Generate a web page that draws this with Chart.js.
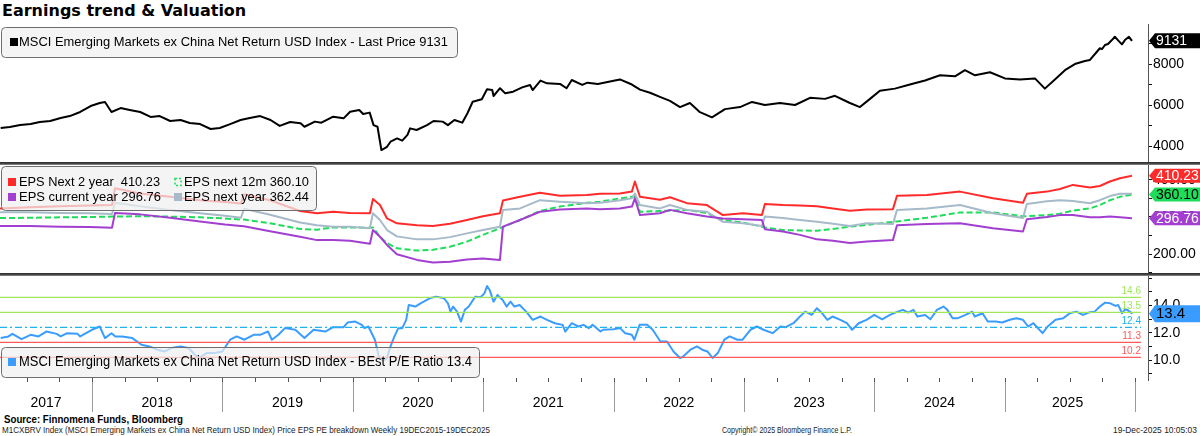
<!DOCTYPE html>
<html><head><meta charset="utf-8">
<script src="https://cdn.jsdelivr.net/npm/chart.js@4.4.1/dist/chart.umd.min.js"></script>
<style>
html,body{margin:0;padding:0;background:#fff;width:1200px;height:436px;overflow:hidden;}
#wrap{position:relative;width:1200px;height:436px;}
.cv{position:absolute;left:0;}
.t{position:absolute;white-space:nowrap;transform-origin:left top;}
.sep{position:absolute;left:0;width:1200px;height:3px;background:linear-gradient(#2a2a2a,#4a4a4a 60%,#9a9a9a);z-index:5;}
</style></head><body><div id="wrap">
<div class="t" id="title" style="left:2px;top:1px;font:bold 16px 'DejaVu Sans',sans-serif;color:#000">Earnings trend &amp; Valuation</div>
<canvas class="cv" id="cA" width="1200" height="140" style="top:24px"></canvas>
<canvas class="cv" id="cB" width="1200" height="111" style="top:164px"></canvas>
<canvas class="cv" id="cC" width="1200" height="137" style="top:275px"></canvas>
<div class="sep" style="top:162px"></div>
<div class="sep" style="top:273px"></div>
<div class="t fit" data-w="179" style="left:4px;top:413px;font:bold 11px 'Liberation Sans',Arial,sans-serif;color:#000">Source: Finnomena Funds, Bloomberg</div>
<div class="t fit" data-w="488" style="left:2px;top:425px;font:9px 'Liberation Sans',Arial,sans-serif;color:#222">M1CXBRV Index (MSCI Emerging Markets ex China Net Return USD Index) Price EPS PE breakdown Weekly 19DEC2015-19DEC2025</div>
<div class="t fit" data-w="130" style="left:722px;top:425px;font:9px 'Liberation Sans',Arial,sans-serif;color:#222">Copyright© 2025 Bloomberg Finance L.P.</div>
<div class="t fit" data-w="84" style="left:1113px;top:425px;font:9px 'Liberation Sans',Arial,sans-serif;color:#222">19-Dec-2025 10:05:03</div>
</div>
<script>
// ---------------- DATA ----------------
const priceDates = [2017.30,2017.37,2017.45,2017.53,2017.60,2017.68,2017.76,2017.83,2017.91,2017.99,2018.06,2018.10,2018.15,2018.22,2018.29,2018.37,2018.45,2018.52,2018.60,2018.68,2018.75,2018.83,2018.91,2018.98,2019.06,2019.14,2019.21,2019.29,2019.37,2019.44,2019.52,2019.60,2019.63,2019.71,2019.76,2019.85,2019.93,2019.98,2020.05,2020.08,2020.13,2020.16,2020.19,2020.22,2020.26,2020.29,2020.34,2020.38,2020.42,2020.44,2020.49,2020.57,2020.62,2020.69,2020.73,2020.78,2020.84,2020.88,2020.92,2020.99,2021.03,2021.07,2021.08,2021.13,2021.17,2021.23,2021.30,2021.36,2021.38,2021.44,2021.49,2021.59,2021.64,2021.68,2021.76,2021.80,2021.88,2021.973,2022.049,2022.141,2022.203,2022.280,2022.356,2022.433,2022.510,2022.586,2022.663,2022.755,2022.855,2022.970,2023.062,2023.161,2023.276,2023.392,2023.507,2023.622,2023.698,2023.813,2023.890,2023.967,2024.043,2024.158,2024.273,2024.389,2024.504,2024.619,2024.695,2024.772,2024.887,2025.002,2025.117,2025.232,2025.308,2025.385,2025.462,2025.538,2025.615,2025.654,2025.707,2025.730,2025.746,2025.769,2025.792,2025.822,2025.845,2025.868,2025.899,2025.922,2025.953,2025.976];
const priceValues = [4880,4930,5020,5070,5170,5220,5370,5460,5660,5950,6100,6150,5660,5850,5760,5660,5420,5460,5220,5270,5120,5070,4830,4880,5070,5270,5370,5460,5270,4980,5170,5110,4940,5190,5140,5430,5350,5670,5760,5560,5630,5020,4940,3800,3940,4210,4370,4260,4540,4860,4780,5020,5220,5190,5020,5270,5140,5600,6160,6280,6770,6730,6440,6820,6570,6650,6860,6980,6730,7190,7060,7030,6820,7220,6980,7090,7030,7150,7250,7000,6750,6600,6400,6200,5900,6100,5650,5400,5800,5900,6150,6000,6100,6000,6350,6300,6450,6100,5900,6300,6700,6800,7000,7200,7450,7400,7700,7450,7600,7300,7250,7300,6800,7250,7700,8000,8150,8200,8600,8770,8730,8930,8980,9170,9330,9170,8960,9170,9330,9131];

const epsDates = [2017.295,2017.525,2017.755,2017.985,2018.154,2018.177,2018.369,2018.599,2018.829,2019.020,2019.143,2019.166,2019.366,2019.596,2019.726,2019.849,2019.979,2020.132,2020.155,2020.209,2020.263,2020.339,2020.493,2020.615,2020.746,2020.876,2020.999,2021.129,2021.152,2021.283,2021.436,2021.589,2021.796,2021.896,2022.049,2022.141,2022.164,2022.203,2022.356,2022.433,2022.563,2022.716,2022.839,2022.993,2023.138,2023.161,2023.299,2023.430,2023.560,2023.683,2023.813,2023.944,2024.143,2024.174,2024.404,2024.657,2024.910,2025.140,2025.170,2025.324,2025.424,2025.523,2025.654,2025.730,2025.807,2025.884,2025.976];
const epsNext2Y = [323,326,329,331,332,377,363,354,345,340,336,361,345,316,310,314,311,310,348,332,296,283,278,276,282,292,302,310,344,354,365,357,359,362,363,368,395,354,346,353,337,332,305,310,305,335,332,331,329,323,317,320,321,357,359,368,350,338,362,368,375,386,379,383,395,404,410.23];
const epsNextYear = [313,313,311,310,308,338,329,319,310,303,298,322,306,285,278,274,274,270,310,292,265,248,240,240,246,256,265,274,319,323,345,341,337,338,345,350,363,332,323,332,319,314,287,283,276,301,297,292,287,282,276,283,281,319,323,332,310,297,335,342,345,343,337,345,356,362,362.44];
const epsNext12m = [297,298,299,300,301,301,302,301,299,296,293,293,283,268,266,272,272,271,272,247,230,216,210,212,220,234,252,270,273,292,316,328,338,341,350,354,354,314,316,317,319,310,292,285,274,272,265,264,263,268,274,279,287,288,298,312,312,302,302,305,309,317,323,332,345,354,360.10];
const epsCurYear = [276,276,274,273,271,311,307,298,288,280,276,275,262,247,238,238,236,228,265,247,225,200,185,178,180,186,189,185,274,292,314,320,323,321,323,328,350,305,310,319,310,301,296,294,292,267,261,252,240,236,230,234,238,278,281,283,270,261,294,300,305,305,299,299,301,299,296.76];

const peDates = [2017.30,2017.36,2017.39,2017.46,2017.53,2017.59,2017.65,2017.73,2017.76,2017.81,2017.89,2017.91,2018.00,2018.06,2018.10,2018.15,2018.18,2018.23,2018.31,2018.38,2018.44,2018.50,2018.56,2018.61,2018.68,2018.74,2018.79,2018.82,2018.88,2018.94,2019.00,2019.06,2019.11,2019.17,2019.24,2019.29,2019.35,2019.38,2019.43,2019.48,2019.56,2019.63,2019.70,2019.79,2019.85,2019.93,2019.96,2020.02,2020.07,2020.09,2020.12,2020.17,2020.20,2020.23,2020.26,2020.29,2020.32,2020.35,2020.38,2020.41,2020.43,2020.48,2020.52,2020.59,2020.64,2020.70,2020.73,2020.75,2020.77,2020.80,2020.83,2020.86,2020.89,2020.94,2020.98,2021.01,2021.03,2021.05,2021.08,2021.11,2021.15,2021.18,2021.21,2021.24,2021.28,2021.33,2021.38,2021.44,2021.49,2021.55,2021.61,2021.63,2021.68,2021.73,2021.77,2021.81,2021.84,2021.90,2021.92,2022.00,2022.05,2022.09,2022.14,2022.16,2022.20,2022.26,2022.30,2022.36,2022.41,2022.46,2022.51,2022.53,2022.59,2022.64,2022.68,2022.72,2022.76,2022.80,2022.85,2022.89,2022.95,2022.99,2023.05,2023.10,2023.15,2023.22,2023.28,2023.32,2023.38,2023.43,2023.47,2023.52,2023.56,2023.60,2023.64,2023.68,2023.74,2023.79,2023.83,2023.88,2023.94,2024.00,2024.06,2024.12,2024.18,2024.22,2024.26,2024.30,2024.33,2024.39,2024.43,2024.48,2024.53,2024.56,2024.60,2024.64,2024.70,2024.75,2024.77,2024.83,2024.87,2024.93,2024.98,2025.04,2025.09,2025.14,2025.18,2025.22,2025.29,2025.33,2025.39,2025.45,2025.50,2025.55,2025.60,2025.65,2025.69,2025.73,2025.77,2025.81,2025.85,2025.87,2025.90,2025.92,2025.94,2025.98];
const peValues = [11.61,11.73,11.92,11.53,11.85,11.73,12.09,11.92,11.73,11.97,11.92,11.73,12.22,12.46,11.61,11.97,11.73,11.73,11.61,11.12,11.00,10.76,10.63,10.88,11.00,10.88,10.39,10.15,10.51,10.51,10.63,11.49,11.73,11.49,11.85,11.85,12.09,11.49,11.85,12.34,12.22,11.61,12.22,12.09,12.41,12.41,12.75,12.82,12.58,12.34,12.46,11.49,10.27,9.95,10.10,11.00,11.73,12.34,12.34,12.95,14.04,13.92,14.16,14.53,14.65,14.53,14.16,13.55,13.92,13.55,12.82,13.68,13.92,14.65,14.60,14.89,15.43,15.14,14.28,14.77,14.40,13.92,14.28,13.92,14.04,13.55,12.95,13.19,12.95,12.70,12.58,12.09,12.70,12.46,12.58,12.34,12.58,12.09,12.22,12.26,12.34,11.97,11.85,11.49,12.58,12.58,12.22,11.36,11.36,10.63,10.15,10.22,10.76,11.00,10.76,10.63,10.15,10.51,11.49,11.73,11.49,11.49,12.22,12.46,12.22,11.97,12.46,12.41,12.70,13.19,13.55,13.31,13.80,13.43,12.95,13.19,12.95,12.70,12.22,12.70,12.95,13.31,12.99,13.31,13.55,13.68,13.48,13.68,13.19,13.31,12.99,13.68,13.92,13.68,13.07,13.07,13.31,13.55,13.19,13.43,12.82,12.82,12.75,12.95,13.07,12.95,12.46,12.70,11.97,12.46,12.95,13.07,13.43,13.55,13.31,13.50,13.55,13.92,14.21,14.16,13.97,14.04,13.43,13.68,13.68,13.40];

const peBandLevels = [14.6, 13.5, 12.4, 11.3, 10.2];
const peBandLabels = ['14.6', '13.5', '12.4', '11.3', '10.2'];
const yearLabels = ['2017','2018','2019','2020','2021','2022','2023','2024','2025'];
const lastPrice = '9131';
const last2Y = '410.23', last12m = '360.10', lastCY = '296.76', lastNY = '362.44', lastPE = '13.4';
const priceTicks = [4000,5000,6000,7000,8000,9000], priceLabelTicks = [4000,6000,8000];
const epsTicks = [150,200,250,300,350,400], epsLabelTicks = [200,300,400];
const peTicks = [9,10,11,12,13,14,15,16], peLabelTicks = [10,12,14];

// ---------------- SETUP ----------------
const FONT = "'Liberation Sans', Arial, sans-serif";
const X_MIN = 2017.295, X_MAX = 2026.099, DATA_END = 2025.965, BAND_END = 2026.045;
const C_RED = '#ff2b2b', C_GRAY = '#a6bac9', C_GREEN = '#1fdc5a', C_PURPLE = '#a23fd0', C_BLUE = '#3b9cff';

document.querySelectorAll('.fit').forEach(el => {
  const w = el.getBoundingClientRect().width;
  el.style.transform = 'scaleX(' + (parseFloat(el.dataset.w) / w) + ')';
});

function pts(xs, ys) { return xs.map((x, i) => ({x: x, y: ys[i]})); }
function line(data, color, extra) {
  return Object.assign({data: data, borderColor: color, borderWidth: 2, pointRadius: 0, tension: 0, fill: false, borderJoinStyle: 'round'}, extra || {});
}
function yAxis(min, max, ticks, labelTicks, fmt) {
  return {
    position: 'right', min: min, max: max,
    afterFit(s) { s.width = 52; s.paddingTop = 0; s.paddingBottom = 0; },
    afterBuildTicks(s) { s.ticks = ticks.map(v => ({value: v})); },
    ticks: {autoSkip: false, padding: 1, color: '#000', font: {family: FONT, size: 14},
      callback: (v) => labelTicks.includes(v) ? fmt(v) : ''},
    grid: {drawOnChartArea: false, drawTicks: true, tickLength: 4, color: '#111', lineWidth: 1},
    border: {display: true, color: '#555', width: 1}
  };
}
const xHidden = {type: 'linear', min: X_MIN, max: X_MAX, display: false};

function fitText(ctx, text, x, y, targetW, size, weight, align) {
  ctx.font = (weight ? weight + ' ' : '') + size + 'px ' + FONT;
  const w = ctx.measureText(text).width;
  const k = targetW ? targetW / w : 1;
  ctx.save(); ctx.translate(x, y); ctx.scale(k, 1);
  ctx.textBaseline = 'middle'; ctx.textAlign = align || 'left';
  ctx.fillText(text, 0, 0); ctx.restore();
}
function legendBox(ctx, x0, y0, x1, y1) {
  ctx.save();
  const r = 4;
  ctx.beginPath();
  ctx.moveTo(x0 + r, y0); ctx.lineTo(x1 - r, y0); ctx.quadraticCurveTo(x1, y0, x1, y0 + r);
  ctx.lineTo(x1, y1 - r); ctx.quadraticCurveTo(x1, y1, x1 - r, y1);
  ctx.lineTo(x0 + r, y1); ctx.quadraticCurveTo(x0, y1, x0, y1 - r);
  ctx.lineTo(x0, y0 + r); ctx.quadraticCurveTo(x0, y0, x0 + r, y0); ctx.closePath();
  ctx.fillStyle = 'rgba(240,240,240,0.72)'; ctx.fill();
  ctx.strokeStyle = '#6e6e6e'; ctx.lineWidth = 1; ctx.stroke();
  ctx.restore();
}
function drawTag(chart, value, text, bg, fg, h, fs) {
  const ctx = chart.ctx, ys = chart.scales.y;
  const y = ys.getPixelForValue(value);
  const x0 = chart.chartArea.right + 1, x1 = chart.width, tip = 6;
  ctx.save();
  ctx.beginPath(); ctx.moveTo(x0, y); ctx.lineTo(x0 + tip, y - h / 2); ctx.lineTo(x1, y - h / 2);
  ctx.lineTo(x1, y + h / 2); ctx.lineTo(x0 + tip, y + h / 2); ctx.closePath();
  ctx.fillStyle = bg; ctx.fill();
  ctx.fillStyle = fg; ctx.font = fs + 'px ' + FONT;
  const avail = x1 - (x0 + tip) - 2, w = ctx.measureText(text).width;
  fitText(ctx, text, x0 + tip + 1, y + 0.5, w > avail ? avail : 0, fs);
  ctx.restore();
}
const common = {responsive: false, animation: false, devicePixelRatio: 1, events: [],
  layout: {padding: 0}, plugins: {legend: {display: false}, tooltip: {enabled: false}}};

// ---------------- PANEL A: PRICE ----------------
new Chart(document.getElementById('cA'), {
  type: 'line',
  data: {datasets: [line(pts(priceDates, priceValues), '#000', {borderWidth: 2})]},
  options: Object.assign({}, common, {
    scales: {x: xHidden, y: yAxis(3122, 9954, priceTicks, priceLabelTicks, v => String(v))}
  }),
  plugins: [{id: 'pa', afterDatasetsDraw(chart) {
    const ctx = chart.ctx;
    legendBox(ctx, 1.5, 3.5, 457.5, 33.5);
    ctx.fillStyle = '#000'; ctx.fillRect(10, 14, 8, 8);
    fitText(ctx, 'MSCI Emerging Markets ex China Net Return USD Index - Last Price ' + lastPrice, 19, 18.5, 429, 13);
  }, afterDraw(chart) {
    drawTag(chart, priceValues[priceValues.length - 1], lastPrice, '#000', '#fff', 15, 14);
  }}]
});

// ---------------- PANEL B: EPS ----------------
new Chart(document.getElementById('cB'), {
  type: 'line',
  data: {datasets: [
    line(pts(epsDates, epsCurYear), C_PURPLE),
    line(pts(epsDates, epsNextYear), C_GRAY),
    line(pts(epsDates, epsNext12m), C_GREEN, {borderDash: [6, 3]}),
    line(pts(epsDates, epsNext2Y), C_RED)
  ]},
  options: Object.assign({}, common, {
    scales: {x: xHidden, y: yAxis(144.5, 442, epsTicks, epsLabelTicks, v => v.toFixed(2))}
  }),
  plugins: [{id: 'pb', afterDatasetsDraw(chart) {
    const ctx = chart.ctx;
    legendBox(ctx, 1.5, 2.5, 316.5, 46.5);
    ctx.fillStyle = C_RED; ctx.fillRect(8, 14, 8, 8);
    ctx.fillStyle = C_PURPLE; ctx.fillRect(8, 29, 8, 8);
    ctx.fillStyle = C_GRAY; ctx.fillRect(174, 29, 8, 8);
    ctx.save(); ctx.strokeStyle = C_GREEN; ctx.lineWidth = 1.5; ctx.setLineDash([2, 2]);
    ctx.strokeRect(175, 14.5, 6, 7); ctx.restore();
    ctx.fillStyle = '#000';
    fitText(ctx, 'EPS Next 2 year  ' + last2Y, 19, 18.5, 141, 13);
    fitText(ctx, 'EPS current year ' + lastCY, 19, 33.5, 142, 13);
    fitText(ctx, 'EPS next 12m ' + last12m, 184, 18.5, 125, 13);
    fitText(ctx, 'EPS next year ' + lastNY, 184, 33.5, 125, 13);
  }, afterDraw(chart) {
    drawTag(chart, epsNext2Y[epsNext2Y.length - 1], last2Y, C_RED, '#fff', 14, 14);
    drawTag(chart, epsNext12m[epsNext12m.length - 1], last12m, C_GREEN, '#000', 14, 14);
    drawTag(chart, epsCurYear[epsCurYear.length - 1], lastCY, C_PURPLE, '#fff', 14, 14);
  }}]
});

// ---------------- PANEL C: P/E + X AXIS ----------------
const bandColors = ['#9ee85a', '#9ee85a', '#1fb4ee', '#ff5a5a', '#ff5a5a'];
const bandSets = peBandLevels.map((lv, i) => line([{x: X_MIN, y: lv}, {x: BAND_END, y: lv}], bandColors[i],
  {borderWidth: 1.2, borderDash: i === 2 ? [7, 3, 2, 3] : []}));
const yearMid = yearLabels.map(y => { const a = Math.max(+y, X_MIN), b = Math.min(+y + 1, DATA_END); return (a + b) / 2; });

new Chart(document.getElementById('cC'), {
  type: 'line',
  data: {datasets: bandSets.concat([line(pts(peDates, peValues), C_BLUE)])},
  options: Object.assign({}, common, {
    scales: {
      x: {type: 'linear', min: X_MIN, max: X_MAX, position: 'bottom',
        afterFit(s) { s.height = 32; s.paddingLeft = 0; s.paddingRight = 0; },
        ticks: {display: false},
        grid: {display: false, drawTicks: false}, border: {display: false}},
      y: yAxis(8.537, 16.235, peTicks, peLabelTicks, v => v.toFixed(1))
    }
  }),
  plugins: [{id: 'pc', afterDatasetsDraw(chart) {
    const ctx = chart.ctx, ys = chart.scales.y, xs = chart.scales.x;
    const xr = xs.getPixelForValue(BAND_END);
    ctx.save(); ctx.font = '10px ' + FONT; ctx.textAlign = 'right'; ctx.textBaseline = 'bottom';
    peBandLevels.forEach((lv, i) => { ctx.fillStyle = bandColors[i]; ctx.fillText(peBandLabels[i], xr, ys.getPixelForValue(lv) - 1.5); });
    ctx.restore();
    legendBox(ctx, 1.5, 72.5, 479.5, 102.5);
    ctx.fillStyle = C_BLUE; ctx.fillRect(8, 83, 8, 8);
    ctx.fillStyle = '#000';
    fitText(ctx, 'MSCI Emerging Markets ex China Net Return USD Index - BEst P/E Ratio ' + lastPE, 19, 87.5, 453, 14);
  }, afterDraw(chart) {
    const ctx = chart.ctx, xs = chart.scales.x, area = chart.chartArea;
    ctx.save();
    ctx.strokeStyle = '#9a9a9a'; ctx.lineWidth = 1;
    for (let y = 2018; y <= 2026; y++) {
      const px = Math.round(xs.getPixelForValue(y)) + 0.5;
      ctx.beginPath(); ctx.moveTo(px, area.bottom + 2); ctx.lineTo(px, area.bottom + 32); ctx.stroke();
    }
    ctx.strokeStyle = '#555';
    for (let q = 2017.5; q <= 2026; q += 0.25) {
      const px = Math.round(xs.getPixelForValue(q)) + 0.5;
      if (px > area.right) continue;
      ctx.beginPath(); ctx.moveTo(px, area.bottom - 2); ctx.lineTo(px, area.bottom + 2); ctx.stroke();
    }
    ctx.fillStyle = '#000'; ctx.font = '14px ' + FONT; ctx.textAlign = 'center'; ctx.textBaseline = 'middle';
    yearLabels.forEach((lb, i) => ctx.fillText(lb, xs.getPixelForValue(yearMid[i]), area.bottom + 23));
    ctx.restore();
    drawTag(chart, peValues[peValues.length - 1], lastPE, C_BLUE, '#000', 17, 15);
  }}]
});
</script>
</body></html>
